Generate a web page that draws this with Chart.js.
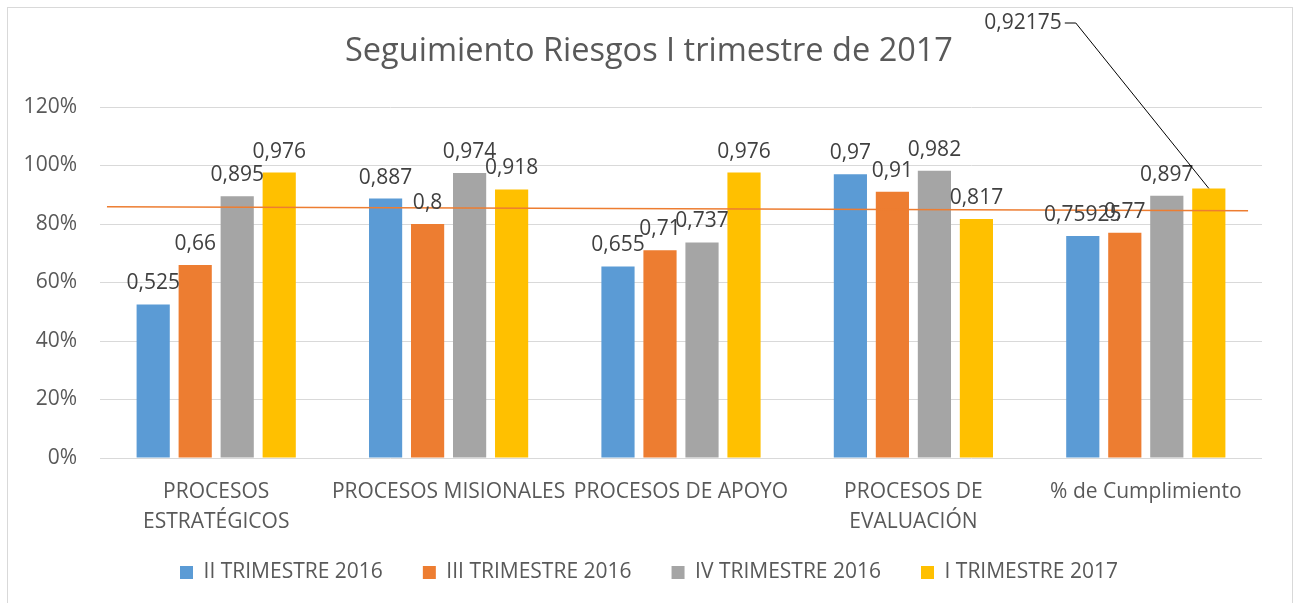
<!DOCTYPE html>
<html><head><meta charset="utf-8">
<script src="https://cdn.jsdelivr.net/npm/chart.js@4/dist/chart.umd.min.js"></script>
<style>
html,body{margin:0;padding:0;background:#fff;overflow:hidden}
#wrap{position:relative;width:1298px;height:603px}
#frame{position:absolute;left:7px;top:7px;width:1284px;height:640px;border:1px solid #D9D9D9;pointer-events:none}
canvas{display:block}
</style></head><body>
<div id="wrap"><canvas id="c" width="1298" height="603"></canvas><div id="frame"></div></div>
<script>
const chartTitle = 'Seguimiento Riesgos I trimestre de 2017';
const categories = [['PROCESOS', 'ESTRATÉGICOS'], 'PROCESOS MISIONALES', 'PROCESOS DE APOYO', ['PROCESOS DE', 'EVALUACIÓN'], '% de Cumplimiento'];
const seriesNames = ['II TRIMESTRE 2016', 'III TRIMESTRE 2016', 'IV TRIMESTRE 2016', 'I TRIMESTRE 2017'];
const seriesII2016 = [0.525, 0.887, 0.655, 0.97, 0.75925];
const seriesIII2016 = [0.66, 0.8, 0.71, 0.91, 0.77];
const seriesIV2016 = [0.895, 0.974, 0.737, 0.982, 0.897];
const seriesI2017 = [0.976, 0.918, 0.976, 0.817, 0.92175];
const seriesColors = ['#5B9BD5', '#ED7D31', '#A5A5A5', '#FFC000'];
// trend line: start/end in category units (0 = left edge, 5 = right edge) and values
const trendX = [0.03, 4.94];
const trendY = [0.859, 0.845];
const yMin = 0, yMax = 1.2, yStep = 0.2;

const FONT = '"Open Sans", "Noto Sans", sans-serif';
const fmt = v => String(v).replace('.', ',');

const allSeries = [seriesII2016, seriesIII2016, seriesIV2016, seriesI2017];
const datasets = allSeries.map((d, i) => ({
  type: 'bar', label: seriesNames[i], data: d, xAxisID: 'x', yAxisID: 'y',
  backgroundColor: seriesColors[i], borderWidth: 0,
  categoryPercentage: 0.723, barPercentage: 0.79
}));

const overlayPlugin = {
  id: 'overlay',
  afterLayout(chart) {
    const L = chart.legend;
    if (L) { L.top -= 10; L.bottom -= 10; }
  },
  afterDatasetsDraw(chart) {
    const ctx = chart.ctx;
    const xs = chart.scales.x, ys = chart.scales.y;
    ctx.save();
    // trend line
    const px = v => xs.getPixelForDecimal(v / categories.length);
    ctx.beginPath();
    ctx.strokeStyle = '#ED7D31'; ctx.lineWidth = 1.5;
    ctx.moveTo(px(trendX[0]), ys.getPixelForValue(trendY[0]));
    ctx.lineTo(px(trendX[1]), ys.getPixelForValue(trendY[1]));
    ctx.stroke();
    // data labels
    ctx.font = '21px ' + FONT;
    ctx.fillStyle = '#404040';
    chart.data.datasets.forEach((ds, di) => {
      const meta = chart.getDatasetMeta(di);
      meta.data.forEach((bar, i) => {
        const txt = fmt(ds.data[i]);
        if (di === 3 && i === 4) {
          const tx = bar.x - 147, ty = chart.chartArea.top - 84;
          ctx.textAlign = 'right'; ctx.textBaseline = 'middle';
          ctx.fillText(txt, tx, ty);
          ctx.beginPath();
          ctx.strokeStyle = '#000'; ctx.lineWidth = 1;
          ctx.moveTo(tx + 3, ty); ctx.lineTo(tx + 14, ty); ctx.lineTo(bar.x, bar.y);
          ctx.stroke();
        } else {
          ctx.textAlign = 'center'; ctx.textBaseline = 'alphabetic';
          ctx.fillText(txt, bar.x, bar.y - 15);
        }
      });
    });
    ctx.restore();
  }
};

new Chart(document.getElementById('c'), {
  type: 'bar',
  data: { labels: categories, datasets: datasets },
  options: {
    responsive: false, animation: false, devicePixelRatio: 1,
    layout: { padding: { left: 0, right: 0, top: 0, bottom: 0 } },
    plugins: {
      title: { display: true, text: chartTitle, color: '#595959',
        font: { family: FONT, size: 32.5, weight: 'normal', lineHeight: 1.2 },
        padding: { top: 32, bottom: 36 } },
      legend: { position: 'bottom',
        labels: { color: '#595959', font: { family: FONT, size: 21 }, boxWidth: 13, boxHeight: 13, padding: 40 } },
      tooltip: { enabled: false }
    },
    scales: {
      x: { type: 'category', grid: { display: false }, border: { display: false },
        ticks: { color: '#595959', font: { family: FONT, size: 21, lineHeight: 1.4 }, padding: 11.5, maxRotation: 0, autoSkip: false },
        afterFit: s => { s.height = 74; } },
      y: { position: 'left', min: yMin, max: yMax, grid: { color: '#D9D9D9', lineWidth: 1, drawTicks: false }, border: { display: false },
        ticks: { stepSize: yStep, padding: 23, color: '#595959', font: { family: FONT, size: 21 },
          callback: v => Math.round(v * 100) + '%' },
        afterFit: s => { s.width = 100; } },
      yR: { position: 'right', display: true, grid: { display: false }, border: { display: false },
        ticks: { display: false }, afterFit: s => { s.width = 36; } }
    }
  },
  plugins: [overlayPlugin]
});
</script>
</body></html>
